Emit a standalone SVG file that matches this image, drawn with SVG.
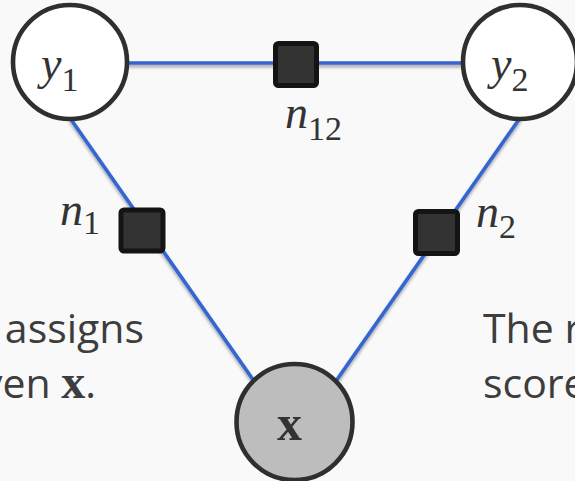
<svg xmlns="http://www.w3.org/2000/svg" width="575" height="481" viewBox="0 0 575 481">
  <defs>
    <filter id="edgeShadow" x="-10%" y="-10%" width="120%" height="130%">
      <feDropShadow dx="0" dy="2.5" stdDeviation="1.6" flood-color="#000" flood-opacity="0.35"/>
    </filter>
    <style>
      .edge { stroke: #3465d0; stroke-width: 3.6; fill: none; stroke-linecap: butt; }
      .var { stroke: #2f2f2f; stroke-width: 4.6; fill: #ffffff; }
      .obs { stroke: #2f2f2f; stroke-width: 4.6; fill: #bdbdbd; }
      .factor { stroke: #141414; stroke-width: 5; fill: #333333; }
      .math { font-family: "Liberation Serif", "DejaVu Serif", serif; font-style: italic; font-size: 46px; fill: #333333; }
      .sub { font-family: "Liberation Serif", "DejaVu Serif", serif; font-style: normal; font-size: 34px; }
      .bold { font-family: "Liberation Serif", "DejaVu Serif", serif; font-weight: bold; font-style: normal; }
      .body { font-family: "Open Sans", "Noto Sans", sans-serif; font-size: 41px; fill: #3d3d3d; }
    </style>
  </defs>

  <rect width="575" height="481" fill="#f9f9f9"/>

  <!-- side text, clipped by the frame -->
  <text class="body" x="144" y="343" text-anchor="end">assigns</text>
  <text class="body" x="96" y="398" text-anchor="end">ven <tspan class="bold" font-size="48">x</tspan>.</text>
  <text class="body" x="483" y="343">The r</text>
  <text class="body" x="483" y="398">score</text>

  <!-- connectors -->
  <g id="connectors" filter="url(#edgeShadow)">
    <line class="edge" x1="126" y1="63" x2="464" y2="63"/>
    <line class="edge" x1="70" y1="118" x2="254" y2="381"/>
    <line class="edge" x1="520" y1="118" x2="336" y2="381"/>
  </g>

  <!-- variable nodes -->
  <g id="y1">
    <circle class="var" cx="70" cy="62" r="57"/>
    <text class="math" x="41" y="79">y<tspan class="sub" dy="12">1</tspan></text>
  </g>
  <g id="y2">
    <circle class="var" cx="520" cy="62" r="57"/>
    <text class="math" x="491" y="79">y<tspan class="sub" dy="12">2</tspan></text>
  </g>
  <g id="x">
    <circle class="obs" cx="294.5" cy="422" r="58"/>
    <text class="bold" x="289.5" y="440" font-size="50" fill="#333333" text-anchor="middle">x</text>
  </g>

  <!-- factor nodes -->
  <g id="n12">
    <rect class="factor" x="275.5" y="43.5" width="41" height="42" rx="3"/>
    <text class="math" x="285" y="128">n<tspan class="sub" dy="12">12</tspan></text>
  </g>
  <g id="n1">
    <rect class="factor" x="121" y="210" width="42" height="41" rx="3"/>
    <text class="math" x="60" y="225">n<tspan class="sub" dy="9">1</tspan></text>
  </g>
  <g id="n2">
    <rect class="factor" x="415.5" y="211.5" width="42" height="42" rx="3"/>
    <text class="math" x="476" y="227">n<tspan class="sub" dy="11">2</tspan></text>
  </g>
</svg>
